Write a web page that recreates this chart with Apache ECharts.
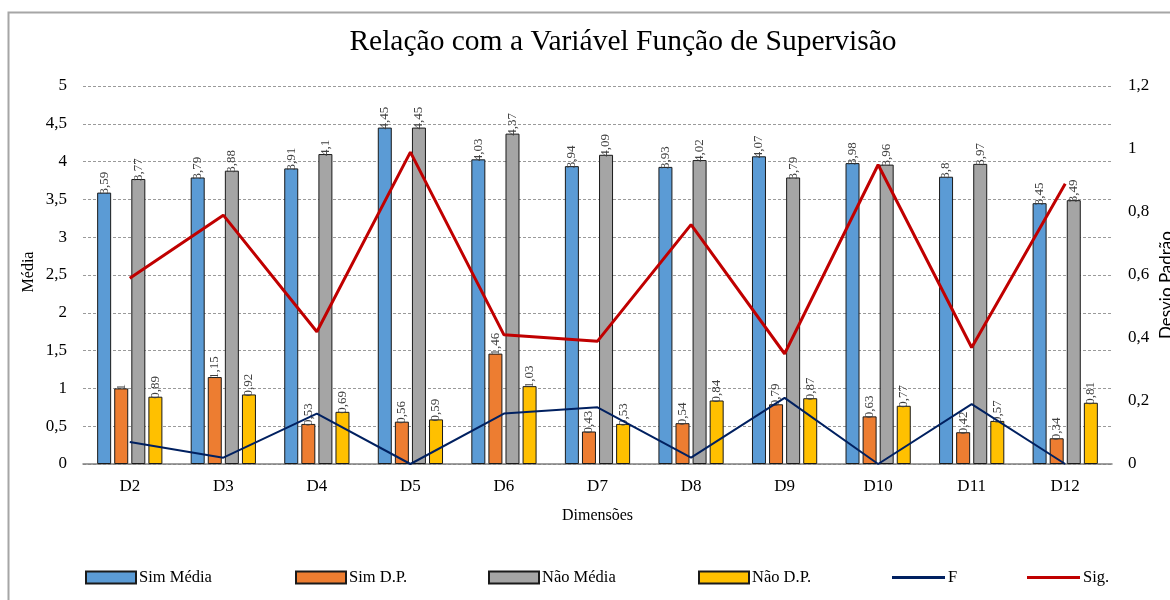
<!DOCTYPE html>
<html>
<head>
<meta charset="utf-8">
<script src="https://cdn.jsdelivr.net/npm/echarts@6/dist/echarts.min.js"></script>
<style>html,body{margin:0;padding:0;background:#fff}#c{width:1170px;height:600px}</style>
</head>
<body>
<div id="c"></div>
<script>
const categories = ['D2','D3','D4','D5','D6','D7','D8','D9','D10','D11','D12'];
const simMedia = [3.59,3.79,3.91,4.45,4.03,3.94,3.93,4.07,3.98,3.8,3.45];
const simDP = [1,1.15,0.53,0.56,1.46,0.43,0.54,0.79,0.63,0.42,0.34];
const naoMedia = [3.77,3.88,4.1,4.45,4.37,4.09,4.02,3.79,3.96,3.97,3.49];
const naoDP = [0.89,0.92,0.69,0.59,1.03,0.53,0.84,0.87,0.77,0.57,0.81];
const fVals = [0.07,0.02,0.16,0.00,0.16,0.18,0.02,0.21,0.00,0.19,0.00];
const sigVals = [0.59,0.79,0.42,0.99,0.41,0.39,0.76,0.35,0.95,0.37,0.89];

const serif = '"Liberation Serif","DejaVu Serif",serif';
const fmt = v => String(v).replace('.', ',');

const chart = echarts.init(document.getElementById('c'), null, {renderer:'canvas'});

function barSeries(name, data, color){
  return {
    name, type:'bar', data, yAxisIndex:0,
    barWidth:14,
    itemStyle:{color, borderColor:'#1a1a1a', borderWidth:1},
    label:{show:true, position:'top', rotate:90, align:'left', verticalAlign:'middle', distance:-2,
      fontFamily:serif, fontSize:13, color:'#404040', formatter:p=>fmt(p.value)},
    emphasis:{disabled:true}
  };
}

function legendItem(name, left, isLine){
  return {
    left, top:564, itemWidth:isLine?53:50, itemHeight:isLine?3:12, itemGap:0,
    icon:'rect', selectedMode:false,
    textStyle:{fontFamily:serif, fontSize:16.5, color:'#000', padding:[0,0,0,-2]},
    data:[isLine ? {name, icon:'rect', itemStyle:{borderWidth:0}} : {name, icon:'rect'}]
  };
}

chart.setOption({
  animation:false,
  backgroundColor:'#fff',
  title:{text:'Relação com a Variável Função de Supervisão', left:618, textAlign:'center', top:22,
    textStyle:{fontFamily:serif, fontSize:29.5, fontWeight:'normal', color:'#000'}},
  grid:{left:83, right:58, top:86, bottom:136},
  legend:[
    legendItem('Sim Média', 80, false),
    legendItem('Sim D.P.', 290, false),
    legendItem('Não Média', 483, false),
    legendItem('Não D.P.', 693, false),
    legendItem('F', 887, true),
    legendItem('Sig.', 1022, true)
  ],
  xAxis:{type:'category', data:categories,
    axisLine:{show:true, lineStyle:{color:'#808080', width:1.5}},
    axisTick:{show:false},
    axisLabel:{fontFamily:serif, fontSize:17, color:'#000', margin:14},
    name:'Dimensões', nameLocation:'middle', nameGap:44,
    nameTextStyle:{fontFamily:serif, fontSize:16, color:'#000'}},
  yAxis:[
    {type:'value', min:0, max:5, interval:0.5,
      axisLine:{show:false}, axisTick:{show:false},
      axisLabel:{fontFamily:serif, fontSize:17, color:'#000', margin:16, formatter:fmt},
      splitLine:{show:true, lineStyle:{color:'#9a9a9a', type:[3,2], width:1}}},
    {type:'value', min:0, max:1.2, interval:0.2, position:'right',
      axisLine:{show:false}, axisTick:{show:false},
      axisLabel:{fontFamily:serif, fontSize:17, color:'#000', margin:16, formatter:fmt},
      splitLine:{show:false}}
  ],
  graphic:[
    {type:'rect', shape:{x:8.5, y:12.5, width:1300, height:700}, style:{fill:'none', stroke:'#a6a6a6', lineWidth:2}, silent:true},
    {type:'text', x:29, y:272, rotation:Math.PI/2, style:{text:'Média', fontFamily:serif, fontSize:16, fill:'#000', align:'center', verticalAlign:'middle'}},
    {type:'text', x:1167, y:285, rotation:Math.PI/2, style:{text:'Desvio Padrão', fontFamily:'Lato,"Noto Sans",sans-serif', fontSize:17, fill:'#000', align:'center', verticalAlign:'middle'}}
  ],
  series:[
    Object.assign(barSeries('Sim Média', simMedia, '#5B9BD5'), {barGap:'22%', barCategoryGap:'30%'}),
    barSeries('Sim D.P.', simDP, '#ED7D31'),
    barSeries('Não Média', naoMedia, '#A5A5A5'),
    barSeries('Não D.P.', naoDP, '#FFC000'),
    {name:'F', type:'line', yAxisIndex:1, data:fVals, symbol:'none', lineStyle:{color:'#002060', width:2}, itemStyle:{color:'#002060'}, z:5},
    {name:'Sig.', type:'line', yAxisIndex:1, data:sigVals, symbol:'none', lineStyle:{color:'#C00000', width:3}, itemStyle:{color:'#C00000'}, z:5}
  ]
});
</script>
</body>
</html>
